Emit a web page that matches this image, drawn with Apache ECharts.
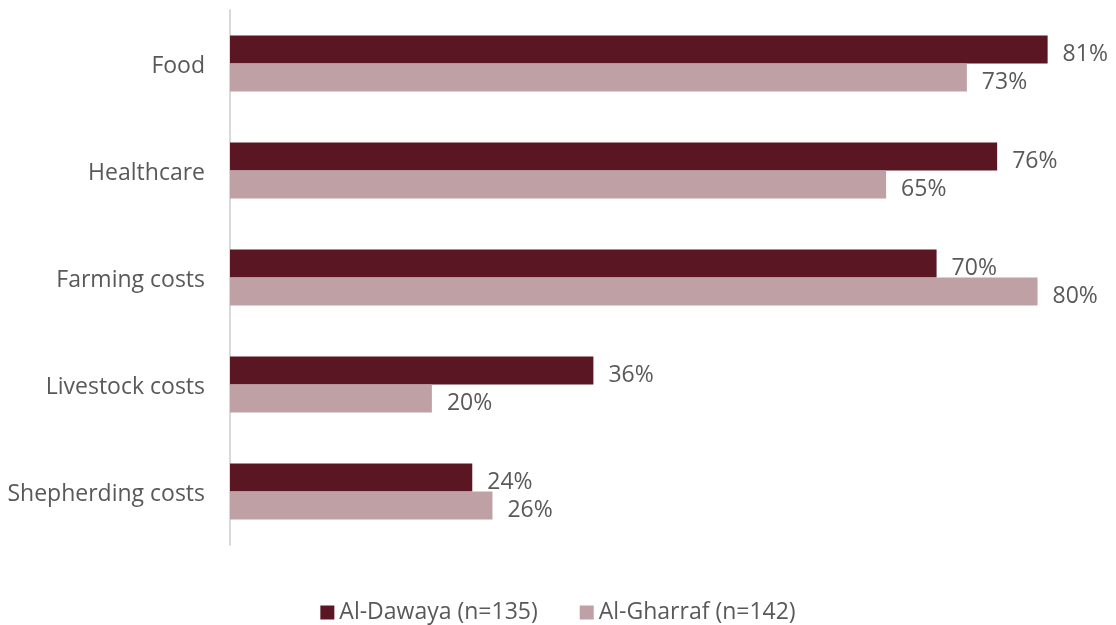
<!DOCTYPE html>
<html>
<head>
<meta charset="utf-8">
<script src="https://cdn.jsdelivr.net/npm/echarts@6/dist/echarts.min.js"></script>
<style>
  html, body { margin: 0; padding: 0; background: #ffffff; }
  #chart { width: 1116px; height: 625px; }
</style>
</head>
<body>
<div id="chart"></div>
<script>
// Share of households reporting each expense, by village
const categories = ['Food', 'Healthcare', 'Farming costs', 'Livestock costs', 'Shepherding costs'];
const seriesNames = ['Al-Dawaya (n=135)', 'Al-Gharraf (n=142)'];
const dawaya = [81, 76, 70, 36, 24];
const gharraf = [73, 65, 80, 20, 26];

const FONT = '"Open Sans", "Noto Sans", sans-serif';
const TEXT = '#595959';
const SIZE = 23;

const labelStyle = {
  show: true,
  position: 'right',
  distance: 15,
  offset: [0, 5],
  color: TEXT,
  fontFamily: FONT,
  fontSize: SIZE,
  formatter: p => p.value + '%'
};

const chart = echarts.init(document.getElementById('chart'), null, { renderer: 'canvas' });
chart.setOption({
  animation: false,
  textStyle: { fontFamily: FONT },
  grid: { left: 230, right: 28, top: 10, bottom: 80, containLabel: false },
  legend: {
    bottom: -4,
    left: 'center',
    itemWidth: 14,
    itemHeight: 14,
    itemGap: 42,
    icon: 'rect',
    textStyle: { color: TEXT, fontFamily: FONT, fontSize: SIZE },
    data: seriesNames
  },
  xAxis: {
    type: 'value',
    min: 0,
    max: 85,
    show: false
  },
  yAxis: {
    type: 'category',
    data: categories,
    inverse: true,
    axisLine: { show: true, lineStyle: { color: '#d9d9d9', width: 2 } },
    axisTick: { show: false },
    axisLabel: {
      margin: 25,
      formatter: v => '{c|' + v + '}',
      rich: {
        c: { color: TEXT, fontFamily: FONT, fontSize: SIZE, padding: [5, 0, 0, 0] }
      }
    }
  },
  series: [
    {
      name: seriesNames[0],
      type: 'bar',
      data: dawaya,
      barWidth: 28,
      barGap: '0%',
      itemStyle: { color: '#5a1622' },
      label: labelStyle
    },
    {
      name: seriesNames[1],
      type: 'bar',
      data: gharraf,
      barWidth: 28,
      barGap: '0%',
      itemStyle: { color: '#bfa0a5' },
      label: labelStyle
    }
  ]
});
</script>
</body>
</html>
